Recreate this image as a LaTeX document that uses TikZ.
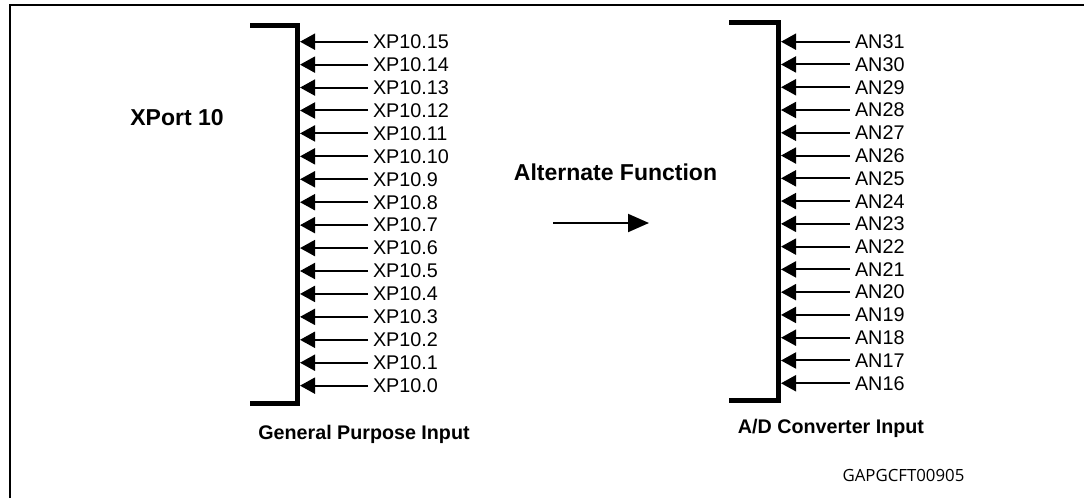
\documentclass[tikz,border=0pt]{standalone}
\usepackage{fontspec}
\setmainfont{Liberation Sans}
\newfontfamily\idfont{Open Sans}
\usepackage{tikz}
\usetikzlibrary{arrows, arrows.meta, calc}
\tikzstyle{frame} = [line width=2.5pt]
\tikzstyle{bus} = [line width=5pt, line join=miter]
\tikzstyle{pinlabel} = [anchor=west, 
inner sep=0pt, 
outer xsep=5pt, 
font=\fontsize{19.8}{22}\selectfont]
\tikzstyle{pin} = [line width=2pt, -{Triangle[length=15pt, width=16pt]}]
\tikzstyle{title} = [anchor=base, 
inner sep=0pt, 
font=\bfseries\fontsize{23}{26}\selectfont]
\tikzstyle{caption} = [anchor=base, 
inner sep=0pt, 
font=\bfseries\fontsize{19.7}{22}\selectfont]
\tikzstyle{flow} = [line width=2pt, -{Triangle[length=21pt, width=18pt]}]

\begin{document}
\begin{tikzpicture}[x=1pt, y=-1pt]
\useasboundingbox (0,0) rectangle (1084,498);

% outer frame
\draw [frame] (10,498) -- (10,5) -- (1084,5);

% left side: XPort 10
\node (xport) [title] at (177,125) {XPort 10};
\coordinate (lbar) at (300,0);
\draw [bus] (250,25) -| (297.5,403) -- (250,403);
\foreach \i [count=\k from 0] in {15,14,...,0}
  \node (xp\i) [pinlabel] at (368,41.7+22.93*\k) {XP10.\i};
\foreach \i in {15,14,...,0}
  \draw [pin] (xp\i.west) -- (xp\i.west -| lbar);
\node (gpi) [caption] at (364,439) {General Purpose Input};

% middle
\node (alt) [title] at (615.5,180.7) {Alternate Function};
\coordinate (afs) at (553,223);
\coordinate (afe) at (649,223);
\draw [flow] (afs) -- (afe);

% right side: A/D converter
\coordinate (rbar) at (781,0);
\draw [bus] (729,22.7) -| (778.5,400) -- (729,400);
\foreach \i [count=\k from 0] in {31,30,...,16}
  \node (an\i) [pinlabel] at (850,41.7+22.77*\k) {AN\i};
\foreach \i in {31,30,...,16}
  \draw [pin] (an\i.west) -- (an\i.west -| rbar);
\node (adc) [caption] at (831,433.3) {A/D Converter Input};

\node (id) [anchor=base, inner sep=0pt, font=\idfont\fontsize{16.8}{19}\selectfont] at (903.5,481.7) {GAPGCFT00905};

\end{tikzpicture}
\end{document}
